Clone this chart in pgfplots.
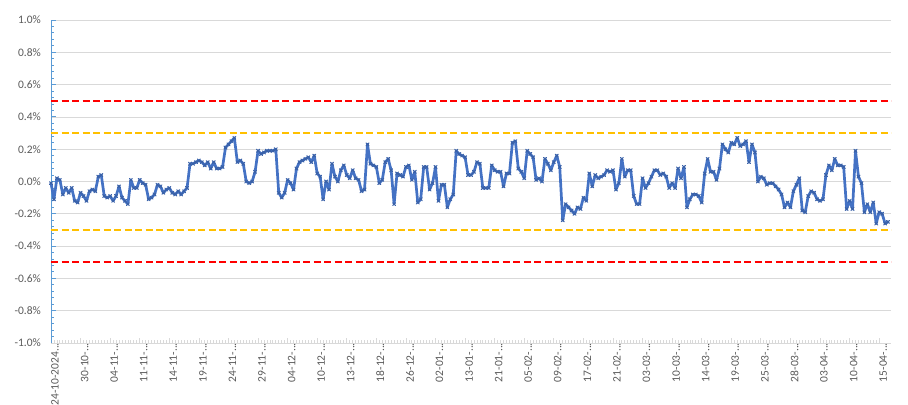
\documentclass[border=0pt]{standalone}
\usepackage{pgfplots}
\usepackage{pgfplotstable}
\usepackage{fontspec}
\setmainfont{Carlito}
\pgfplotsset{compat=1.18}

\definecolor{serieblue}{HTML}{4472C4}
\definecolor{axisblue}{HTML}{5B9BD5}
\definecolor{gridgray}{HTML}{D9D9D9}
\definecolor{labelgray}{HTML}{595959}
\definecolor{limred}{HTML}{FF0000}
\definecolor{limorange}{HTML}{FFC000}

% truncated date labels end in three dots
\protected\def\tr{.\kern0pt.\kern0pt.}

% daily deviation, in percent
\pgfplotstableread{
v
-0.01
-0.11
0.02
0.01
-0.08
-0.04
-0.07
-0.04
-0.12
-0.13
-0.07
-0.09
-0.12
-0.06
-0.05
-0.06
0.03
0.04
-0.09
-0.10
-0.09
-0.12
-0.09
-0.03
-0.10
-0.12
-0.14
0.01
-0.04
-0.04
0.01
-0.01
-0.02
-0.11
-0.10
-0.08
-0.02
-0.03
-0.07
-0.05
-0.04
-0.07
-0.08
-0.06
-0.08
-0.06
-0.04
0.11
0.11
0.12
0.13
0.12
0.10
0.12
0.08
0.12
0.08
0.08
0.09
0.21
0.23
0.25
0.27
0.12
0.13
0.11
0.00
-0.01
0.00
0.06
0.19
0.17
0.18
0.19
0.19
0.19
0.20
-0.07
-0.10
-0.07
0.01
-0.01
-0.05
0.08
0.12
0.13
0.14
0.15
0.12
0.16
0.05
0.03
-0.11
0.00
-0.05
0.11
0.03
0.00
0.07
0.10
0.04
0.02
0.07
0.02
0.01
-0.06
-0.05
0.23
0.11
0.10
0.09
-0.01
0.01
0.12
0.14
0.07
-0.14
0.05
0.04
0.03
0.09
0.10
0.01
0.06
-0.13
-0.11
0.09
0.09
-0.05
-0.01
0.09
-0.12
-0.02
-0.02
-0.16
-0.11
-0.08
0.19
0.17
0.16
0.15
0.04
0.04
0.06
0.12
0.11
-0.04
-0.04
-0.04
0.10
0.07
0.06
0.06
-0.03
0.05
0.05
0.24
0.25
0.08
0.06
0.02
0.19
0.17
0.15
0.01
0.02
0.00
0.14
0.11
0.07
0.12
0.16
0.09
-0.24
-0.14
-0.16
-0.18
-0.20
-0.16
-0.17
-0.10
-0.12
0.05
-0.03
0.04
0.02
0.03
0.04
0.07
0.06
0.07
-0.05
-0.01
0.14
0.03
0.07
0.07
-0.09
-0.14
-0.14
0.02
-0.04
-0.01
0.03
0.07
0.07
0.04
0.05
0.03
-0.04
-0.01
-0.04
0.08
0.02
0.09
-0.16
-0.11
-0.08
-0.08
-0.09
-0.13
0.05
0.14
0.06
0.06
0.01
0.08
0.23
0.20
0.18
0.24
0.23
0.27
0.22
0.23
0.25
0.12
0.23
0.18
0.00
0.03
0.02
-0.02
-0.01
-0.01
-0.03
-0.05
-0.08
-0.16
-0.13
-0.16
-0.06
-0.02
0.02
-0.18
-0.19
-0.09
-0.06
-0.07
-0.11
-0.12
-0.11
0.04
0.10
0.07
0.14
0.10
0.10
0.09
-0.17
-0.12
-0.17
0.19
0.03
-0.01
-0.19
-0.14
-0.19
-0.13
-0.26
-0.19
-0.20
-0.26
-0.25
}\devtable

\begin{document}
\begin{tikzpicture}
\useasboundingbox (-51bp,-62bp) rectangle (857bp,343bp);
\begin{axis}[
  at={(0,0)}, anchor=south west,
  scale only axis,
  width=840bp, height=323bp,
  xmin=0, xmax=284,
  ymin=-1, ymax=1,
  axis lines*=left,
  x axis line style={draw=gridgray, line width=0.75bp},
  y axis line style={draw=axisblue, line width=0.9bp},
  ytick={-1,-0.8,-0.6,-0.4,-0.2,0,0.2,0.4,0.6,0.8,1},
  minor y tick num=4,
  xtick={0,10,20,30,40,50,60,70,80,90,100,110,120,130,140,150,160,170,180,190,200,210,220,230,240,250,260,270,280},
  minor x tick num=9,
  xticklabels={{24-10-2024\tr},{30-10-\tr},{04-11-\tr},{11-11-\tr},{14-11-\tr},{19-11-\tr},{24-11-\tr},{29-11-\tr},{04-12-\tr},{10-12-\tr},{13-12-\tr},{18-12-\tr},{26-12-\tr},{02-01-\tr},{13-01-\tr},{21-01-\tr},{05-02-\tr},{09-02-\tr},{17-02-\tr},{21-02-\tr},{03-03-\tr},{10-03-\tr},{14-03-\tr},{19-03-\tr},{25-03-\tr},{28-03-\tr},{03-04-\tr},{10-04-\tr},{15-04-\tr}},
  tick align=inside,
  major tick length=5bp,
  minor tick length=3bp,
  xtick style={draw=gridgray, line width=0.75bp},
  ytick style={draw=axisblue, line width=0.9bp},
  ymajorgrids,
  major grid style={draw=gridgray, line width=0.75bp},
  /pgf/number format/assume math mode=true,
  yticklabel={\pgfmathprintnumber[fixed,fixed zerofill,precision=1]{\tick}\%},
  yticklabel style={anchor=east, inner sep=0pt, xshift=-10bp, font=\fontsize{11.5}{13}\selectfont, text=labelgray},
  xticklabel style={rotate=90, anchor=east, inner sep=0pt, yshift=-4bp, font=\fontsize{11.5}{13}\selectfont, text=labelgray},
  clip=false,
]
% tolerance bands
\addplot[limred, line width=2bp, dash pattern=on 7bp off 3.5bp, forget plot]
  coordinates {(0,0.5) (284,0.5)};
\addplot[limred, line width=2bp, dash pattern=on 7bp off 3.5bp, forget plot]
  coordinates {(0,-0.5) (284,-0.5)};
\addplot[limorange, line width=2bp, dash pattern=on 7bp off 3.5bp, forget plot]
  coordinates {(0,0.3) (284,0.3)};
\addplot[limorange, line width=2bp, dash pattern=on 7bp off 3.5bp, forget plot]
  coordinates {(0,-0.3) (284,-0.3)};
% series
\addplot[serieblue, line width=2.7bp, line join=round, line cap=round,
  mark=x, mark size=2.1bp, mark options={line width=1bp, solid, draw=serieblue!85!black}]
  table[x expr=\coordindex, y=v] {\devtable};
\end{axis}
\end{tikzpicture}
\end{document}
